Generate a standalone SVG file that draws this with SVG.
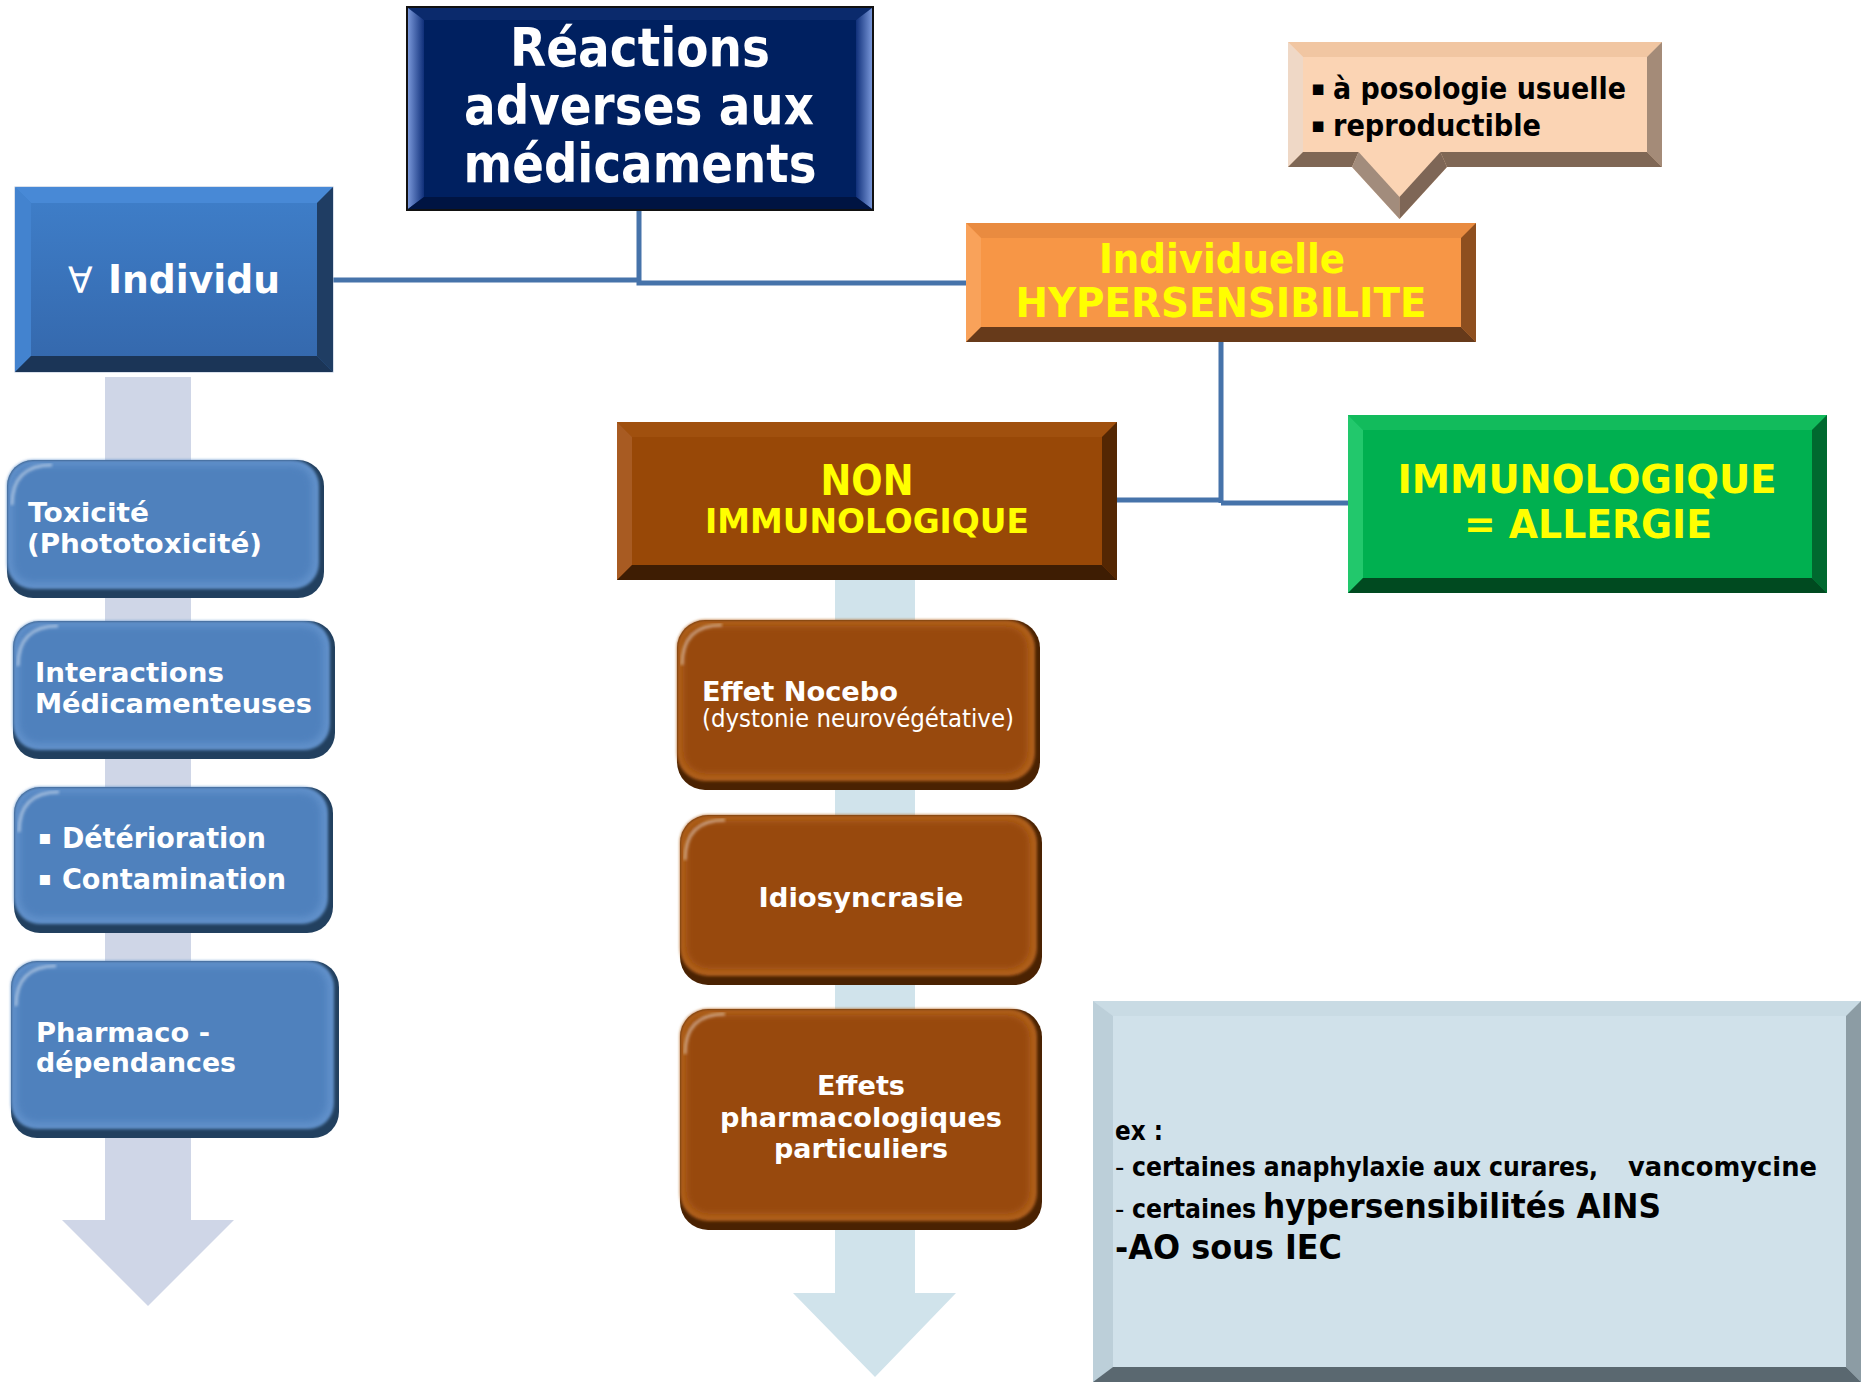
<svg xmlns="http://www.w3.org/2000/svg" width="1865" height="1383" viewBox="0 0 1865 1383">
<defs>
<style>
text{font-family:"DejaVu Sans","Liberation Sans",sans-serif;font-weight:bold}
.w{fill:#fff}.y{fill:#ff0}.k{fill:#000}
.reg{font-weight:normal}
.mid{text-anchor:middle}
.conn{fill:none;stroke:#4673aa;stroke-width:5}
.hl{fill:none;stroke:#fff;stroke-opacity:.45;stroke-width:3;filter:url(#soft2)}
.blueDark{fill:#22405f}.blueRim{fill:#6190ca;filter:url(#soft2)}.blueFace{fill:#4f81bd;filter:url(#soft)}
.brDark{fill:#4a2202}.brRim{fill:#b0601f;filter:url(#soft2)}.brFace{fill:#984807;filter:url(#soft)}
</style>
<filter id="soft" x="-5%" y="-5%" width="110%" height="110%"><feGaussianBlur stdDeviation="3"/></filter>
<filter id="soft2" x="-5%" y="-5%" width="110%" height="110%"><feGaussianBlur stdDeviation="1.5"/></filter>
<linearGradient id="gTitleL" x1="0" y1="0" x2="1" y2="0"><stop offset="0" stop-color="#7896d8"/><stop offset="1" stop-color="#10307a"/></linearGradient>
<linearGradient id="gTitleR" x1="0" y1="0" x2="1" y2="0"><stop offset="0" stop-color="#10307a"/><stop offset="1" stop-color="#7896d8"/></linearGradient>
<linearGradient id="gInd" x1="0" y1="0" x2="0" y2="1"><stop offset="0" stop-color="#3f7fca"/><stop offset="1" stop-color="#3467ab"/></linearGradient>
</defs>

<rect width="1865" height="1383" fill="#fff"/>

<!-- pale flow arrows behind the columns -->
<g id="flow-arrows">
<polygon points="105,377 191,377 191,1220 234,1220 148,1306 62,1220 105,1220" fill="#cfd6e7"/>
<polygon points="835,580 915,580 915,1293 956,1293 875,1377 793,1293 835,1293" fill="#d0e3eb"/>
</g>

<!-- connectors -->
<g id="connectors">
<path class="conn" d="M333,280 H639 M639,210 V283 H966"/>
<path class="conn" d="M1221,342 V503 M1117,500 H1221 M1221,503 H1348"/>
</g>

<!-- title -->
<g id="n-title">
<rect x="407" y="7" width="466" height="203" fill="#002060" stroke="#111" stroke-width="2"/>
<polygon points="408,8 872,8 856,20 424,20" fill="#0b2a6c"/>
<polygon points="408,8 424,20 424,197 408,209" fill="url(#gTitleL)"/>
<polygon points="872,8 872,209 856,197 856,20" fill="url(#gTitleR)"/>
<polygon points="408,209 424,197 856,197 872,209" fill="#001442"/>
<text class="w mid" x="640" y="66" font-size="54" textLength="260" lengthAdjust="spacingAndGlyphs">Réactions</text>
<text class="w mid" x="639" y="124" font-size="54" textLength="350" lengthAdjust="spacingAndGlyphs">adverses aux</text>
<text class="w mid" x="640" y="182" font-size="54" textLength="353" lengthAdjust="spacingAndGlyphs">médicaments</text>
</g>

<!-- every individual -->
<g id="n-individu">
<rect x="15" y="187" width="318" height="185" fill="url(#gInd)" stroke="#b4c2d8" stroke-width="1"/>
<polygon points="15,187 333,187 317,203 31,203" fill="#4889d6"/>
<polygon points="15,187 31,203 31,356 15,372" fill="#4383cf"/>
<polygon points="333,187 333,372 317,356 317,203" fill="#1f3d63"/>
<polygon points="15,372 31,356 317,356 333,372" fill="#1b3557"/>
<text class="w reg" x="68" y="293" font-size="36">∀</text>
<text class="w" x="108" y="293" font-size="39" textLength="172" lengthAdjust="spacingAndGlyphs">Individu</text>
</g>

<!-- callout -->
<g id="n-callout">
<path d="M1288,42 H1662 V167 H1447 L1399.5,219 L1352,167 H1288 Z" fill="#fbd4b4"/>
<polygon points="1288,42 1662,42 1647,57 1303,57" fill="#f1c6a2"/>
<polygon points="1288,42 1303,57 1303,152 1288,167" fill="#efd8c6"/>
<polygon points="1662,42 1662,167 1647,152 1647,57" fill="#a48b78"/>
<polygon points="1288,167 1303,152 1358.6,152 1352,167" fill="#7f6755"/>
<polygon points="1352,167 1358.6,152 1399.5,197 1399.5,219" fill="#a28c7c"/>
<polygon points="1399.5,219 1399.5,197 1440.4,152 1447,167" fill="#7e6656"/>
<polygon points="1447,167 1440.4,152 1647,152 1662,167" fill="#7f6755"/>
<text class="k" x="1311" y="95" font-size="21">▪</text>
<text class="k" x="1333" y="99" font-size="31" textLength="293" lengthAdjust="spacingAndGlyphs">à posologie usuelle</text>
<text class="k" x="1311" y="132" font-size="21">▪</text>
<text class="k" x="1333" y="136" font-size="31" textLength="208" lengthAdjust="spacingAndGlyphs">reproductible</text>
</g>

<!-- individual hypersensitivity -->
<g id="n-hyper">
<rect x="966" y="223" width="510" height="119" fill="#f79646"/>
<polygon points="966,223 1476,223 1461,238 981,238" fill="#e98b40"/>
<polygon points="966,223 981,238 981,327 966,342" fill="#f9a25a"/>
<polygon points="1476,223 1476,342 1461,327 1461,238" fill="#8e4f1f"/>
<polygon points="966,342 981,327 1461,327 1476,342" fill="#673a1a"/>
<text class="y mid" x="1222" y="273" font-size="40" textLength="246" lengthAdjust="spacingAndGlyphs">Individuelle</text>
<text class="y mid" x="1221" y="317" font-size="40" textLength="411" lengthAdjust="spacingAndGlyphs">HYPERSENSIBILITE</text>
</g>

<!-- non immunological -->
<g id="n-nonimmuno">
<rect x="617" y="422" width="500" height="158" fill="#984807"/>
<polygon points="617,422 1117,422 1102,437 632,437" fill="#a0500e"/>
<polygon points="617,422 632,437 632,565 617,580" fill="#a85b22"/>
<polygon points="1117,422 1117,580 1102,565 1102,437" fill="#542703"/>
<polygon points="617,580 632,565 1102,565 1117,580" fill="#3e1d03"/>
<text class="y mid" x="867" y="495" font-size="42" textLength="93" lengthAdjust="spacingAndGlyphs">NON</text>
<text class="y mid" x="867" y="533" font-size="33" textLength="324" lengthAdjust="spacingAndGlyphs">IMMUNOLOGIQUE</text>
</g>

<!-- immunological = allergy -->
<g id="n-allergie">
<rect x="1348" y="415" width="479" height="178" fill="#00b050"/>
<polygon points="1348,415 1827,415 1812,430 1363,430" fill="#12bb5c"/>
<polygon points="1348,415 1363,430 1363,578 1348,593" fill="#22c86c"/>
<polygon points="1827,415 1827,593 1812,578 1812,430" fill="#00692f"/>
<polygon points="1348,593 1363,578 1812,578 1827,593" fill="#004a20"/>
<text class="y mid" x="1587" y="493" font-size="39" textLength="379" lengthAdjust="spacingAndGlyphs">IMMUNOLOGIQUE</text>
<text class="y mid" x="1588" y="538" font-size="39" textLength="248" lengthAdjust="spacingAndGlyphs">= ALLERGIE</text>
</g>

<!-- left column -->
<g id="n-toxicite">
<rect class="blueDark" x="7" y="460" width="317" height="138" rx="26"/>
<rect class="blueRim" x="7" y="460" width="312" height="129" rx="26"/>
<rect class="blueFace" x="13" y="466" width="299" height="116" rx="20"/>
<path class="hl" d="M12,505 Q12,465 52,465"/>
<text class="w" x="28" y="522" font-size="26" textLength="121" lengthAdjust="spacingAndGlyphs">Toxicité</text>
<text class="w" x="27" y="553" font-size="26" textLength="235" lengthAdjust="spacingAndGlyphs">(Phototoxicité)</text>
</g>
<g id="n-interactions">
<rect class="blueDark" x="13" y="621" width="322" height="138" rx="26"/>
<rect class="blueRim" x="13" y="621" width="317" height="129" rx="26"/>
<rect class="blueFace" x="19" y="627" width="304" height="116" rx="20"/>
<path class="hl" d="M18,666 Q18,626 58,626"/>
<text class="w" x="35" y="682" font-size="26" textLength="189" lengthAdjust="spacingAndGlyphs">Interactions</text>
<text class="w" x="35" y="713" font-size="26" textLength="277" lengthAdjust="spacingAndGlyphs">Médicamenteuses</text>
</g>
<g id="n-deterioration">
<rect class="blueDark" x="14" y="787" width="319" height="146" rx="26"/>
<rect class="blueRim" x="14" y="787" width="314" height="137" rx="26"/>
<rect class="blueFace" x="20" y="793" width="301" height="124" rx="20"/>
<path class="hl" d="M19,832 Q19,792 59,792"/>
<text class="w" x="38" y="844" font-size="20">▪</text>
<text class="w" x="62" y="848" font-size="28" textLength="204" lengthAdjust="spacingAndGlyphs">Détérioration</text>
<text class="w" x="38" y="885" font-size="20">▪</text>
<text class="w" x="62" y="889" font-size="28" textLength="224" lengthAdjust="spacingAndGlyphs">Contamination</text>
</g>
<g id="n-pharmacodep">
<rect class="blueDark" x="11" y="961" width="328" height="177" rx="26"/>
<rect class="blueRim" x="11" y="961" width="323" height="168" rx="26"/>
<rect class="blueFace" x="17" y="967" width="310" height="155" rx="20"/>
<path class="hl" d="M16,1006 Q16,966 56,966"/>
<text class="w" x="36" y="1042" font-size="26" textLength="174" lengthAdjust="spacingAndGlyphs">Pharmaco -</text>
<text class="w" x="36" y="1072" font-size="26" textLength="200" lengthAdjust="spacingAndGlyphs">dépendances</text>
</g>

<!-- middle column -->
<g id="n-nocebo">
<rect class="brDark" x="677" y="620" width="363" height="170" rx="28"/>
<rect class="brRim" x="677" y="620" width="358" height="161" rx="28"/>
<rect class="brFace" x="683" y="626" width="345" height="148" rx="22"/>
<path class="hl" d="M682,665 Q682,625 722,625"/>
<text class="w" x="702" y="701" font-size="26" textLength="196" lengthAdjust="spacingAndGlyphs">Effet Nocebo</text>
<text class="w reg" x="702" y="727" font-size="24" textLength="312" lengthAdjust="spacingAndGlyphs">(dystonie neurovégétative)</text>
</g>
<g id="n-idiosyncrasie">
<rect class="brDark" x="680" y="815" width="362" height="170" rx="28"/>
<rect class="brRim" x="680" y="815" width="357" height="161" rx="28"/>
<rect class="brFace" x="686" y="821" width="344" height="148" rx="22"/>
<path class="hl" d="M685,860 Q685,820 725,820"/>
<text class="w mid" x="861" y="907" font-size="26" textLength="205" lengthAdjust="spacingAndGlyphs">Idiosyncrasie</text>
</g>
<g id="n-effets">
<rect class="brDark" x="680" y="1009" width="362" height="221" rx="28"/>
<rect class="brRim" x="680" y="1009" width="357" height="212" rx="28"/>
<rect class="brFace" x="686" y="1015" width="344" height="199" rx="22"/>
<path class="hl" d="M685,1054 Q685,1014 725,1014"/>
<text class="w mid" x="861" y="1095" font-size="27" textLength="88" lengthAdjust="spacingAndGlyphs">Effets</text>
<text class="w mid" x="861" y="1127" font-size="27" textLength="282" lengthAdjust="spacingAndGlyphs">pharmacologiques</text>
<text class="w mid" x="861" y="1158" font-size="27" textLength="174" lengthAdjust="spacingAndGlyphs">particuliers</text>
</g>

<!-- examples -->
<g id="n-exemples">
<rect x="1093" y="1001" width="768" height="381" fill="#d0e1ea"/>
<polygon points="1093,1001 1861,1001 1846,1016 1113,1016" fill="#c9dbe4"/>
<polygon points="1093,1001 1113,1016 1113,1367 1093,1382" fill="#bccfd9"/>
<polygon points="1861,1001 1861,1382 1846,1367 1846,1016" fill="#8c9ca4"/>
<polygon points="1093,1382 1113,1367 1846,1367 1861,1382" fill="#5a6870"/>
<text class="k" x="1115" y="1140" font-size="26" textLength="48" lengthAdjust="spacingAndGlyphs">ex :</text>
<text class="k reg" x="1115" y="1176" font-size="26">-</text>
<text class="k" x="1132" y="1176" font-size="26" textLength="466" lengthAdjust="spacingAndGlyphs">certaines anaphylaxie aux curares,</text>
<text class="k" x="1628" y="1176" font-size="26" textLength="189" lengthAdjust="spacingAndGlyphs">vancomycine</text>
<text class="k reg" x="1115" y="1218" font-size="26">-</text>
<text class="k" x="1132" y="1218" font-size="26" textLength="124" lengthAdjust="spacingAndGlyphs">certaines</text>
<text class="k" x="1263" y="1218" font-size="34" textLength="398" lengthAdjust="spacingAndGlyphs">hypersensibilités AINS</text>
<text class="k" x="1115" y="1259" font-size="34" textLength="227" lengthAdjust="spacingAndGlyphs">-AO sous IEC</text>
</g>
</svg>
